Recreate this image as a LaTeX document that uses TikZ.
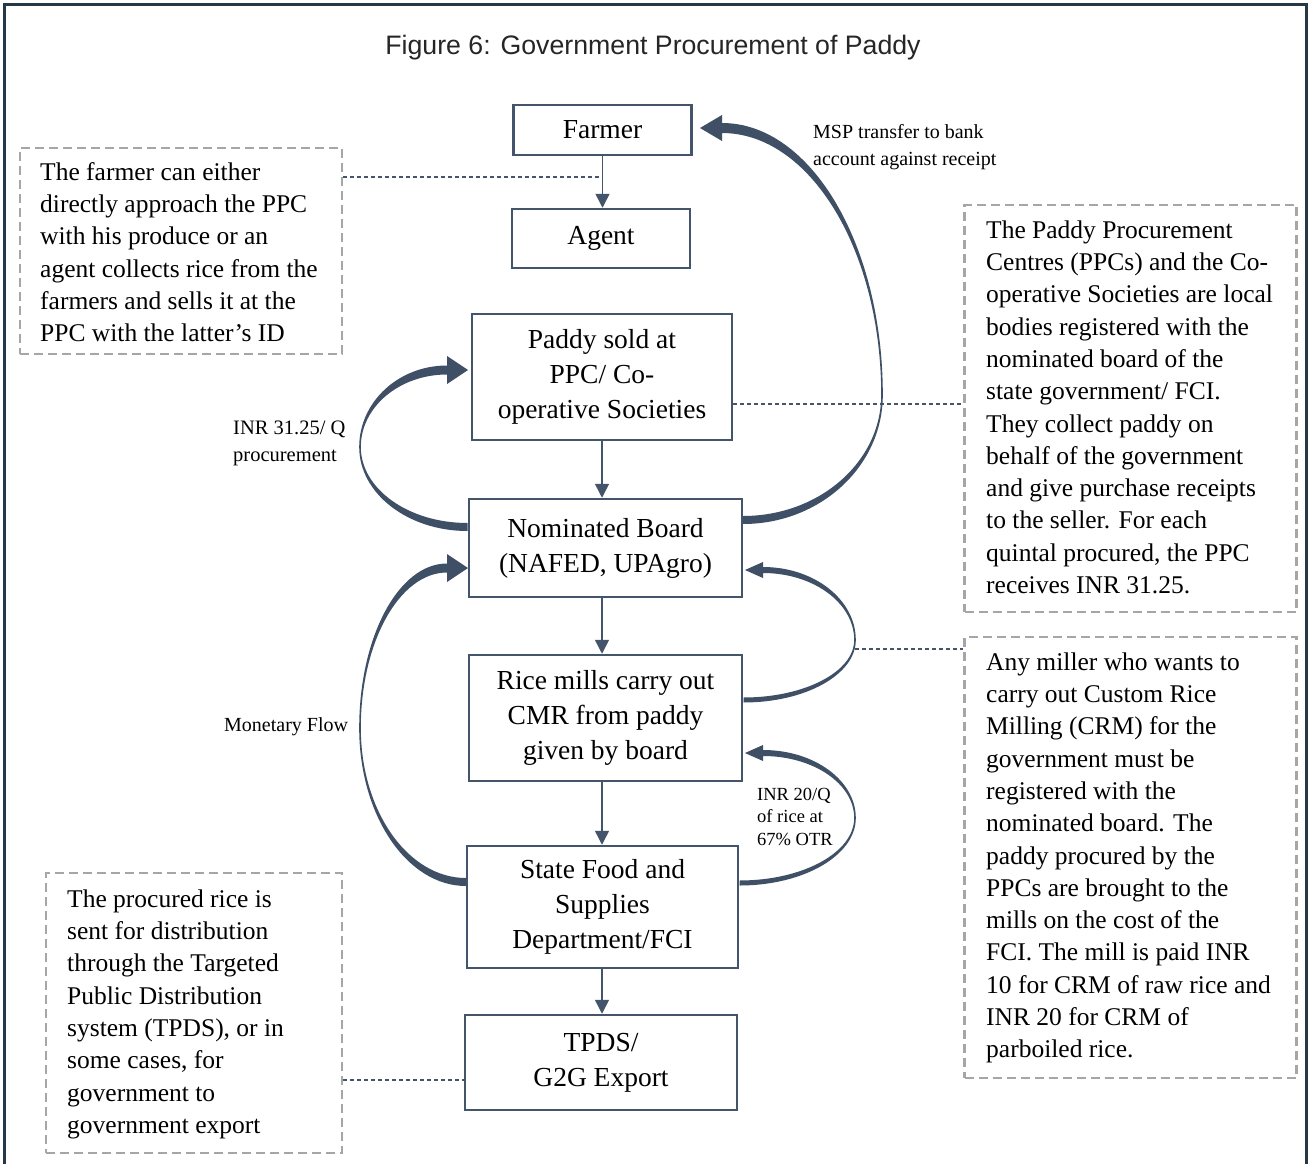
\documentclass[tikz,border=0pt]{standalone}
\usepackage{fontspec}
\setmainfont{Liberation Serif}
\newfontfamily\titlefont{Liberation Sans}
\usetikzlibrary{arrows.meta,calc}
\definecolor{slate}{HTML}{44546A}
\definecolor{frameblue}{HTML}{243848}
\definecolor{dashgray}{HTML}{A6A6A6}
\definecolor{arrowfill}{HTML}{3E4F66}
% crescent arrow: Sx Sy Mx My tipx tipy t1 t2 headlength ; head half width in \chw
\newcommand\crescent[9]{%
  \pgfmathsetmacro\cd{sign(#3-#1)}%
  \pgfmathsetmacro\cSo{#2+#7/2}%
  \pgfmathsetmacro\cSi{#2-#7/2}%
  \pgfmathsetmacro\cBo{#6-#8/2}%
  \pgfmathsetmacro\cBi{#6+#8/2}%
  \pgfmathsetmacro\cBx{#5+\cd*#9}%
  \pgfmathsetmacro\cMo{#3+\cd*0.8}%
  \pgfmathsetmacro\cMi{#3-\cd*0.8}%
  \fill[arrowfill] (#1,\cSo)
    .. controls ({#1+0.5523*(\cMo-#1)},\cSo) and (\cMo,{#4+0.5523*(\cSo-#4)}) .. (\cMo,#4)
    .. controls (\cMo,{#4+0.5523*(\cBo-#4)}) and ({\cBx+0.5523*(\cMo-\cBx)},\cBo) .. (\cBx,\cBo)
    -- (\cBx,{#6-\chw}) -- (#5,#6) -- (\cBx,{#6+\chw}) -- (\cBx,\cBi)
    .. controls ({\cBx+0.5523*(\cMi-\cBx)},\cBi) and (\cMi,{#4+0.5523*(\cBi-#4)}) .. (\cMi,#4)
    .. controls (\cMi,{#4+0.5523*(\cSi-#4)}) and ({#1+0.5523*(\cMi-#1)},\cSi) .. (#1,\cSi)
    -- cycle;
}
\tikzset{
  box/.style={draw=slate, line width=2.5pt, fill=white, rectangle, inner sep=0pt,
    align=center, font=\fontsize{27.5}{35}\selectfont},
  notebox/.style={draw=dashgray, line width=2.5pt, dash pattern=on 9pt off 5pt,
    rectangle, inner sep=0pt},
  note/.style={anchor=north west, inner sep=0pt, align=left,
    font=\fontsize{25.5}{32.3}\selectfont},
  link/.style={draw=slate, line width=1.2pt, dash pattern=on 4pt off 3pt},
  flow/.style={draw=slate, line width=1.5pt, -{Triangle[width=14pt,length=14pt]}},
  lbl/.style={anchor=north west, inner sep=0pt, align=left},
}
\begin{document}
\begin{tikzpicture}[x=1pt,y=-1pt]
\useasboundingbox (0,0) rectangle (1312,1164);
\clip (0,0) rectangle (1312,1164);
\fill[white] (0,0) rectangle (1312,1164);
\draw[frameblue, line width=3pt] (4,5) rectangle (1306,1180);

\node[anchor=base, font=\titlefont\fontsize{26.7}{32}\selectfont, text=black!85] (title) at (653,55)
  {Figure 6: Government Procurement of Paddy};

% main boxes
\node[box, minimum width=178pt, minimum height=50pt] (farmer) at (602.5,130) {Farmer};
\node[box, minimum width=178pt, minimum height=59pt] (agent) at (601,238.5) {Agent};
\node[box, minimum width=260pt, minimum height=126pt] (paddy) at (602,377) {Paddy sold at\\PPC/ Co-\\operative Societies};
\node[box, minimum width=273pt, minimum height=98pt] (nb) at (605.5,548) {Nominated Board\\(NAFED, UPAgro)};
\node[box, minimum width=273pt, minimum height=126pt] (rice) at (605.5,718) {Rice mills carry out\\CMR from paddy\\given by board};
\node[box, minimum width=271pt, minimum height=122pt] (state) at (602.5,907) {State Food and\\Supplies\\Department/FCI};
\node[box, minimum width=272pt, minimum height=95pt] (tpds) at (601,1062.5) {TPDS/\\G2G Export};

% straight flows
\draw[flow] (farmer.south) -- (farmer.south |- agent.north);
\draw[flow] (paddy.south) -- (paddy.south |- nb.north);
\draw[flow] (paddy.south |- nb.south) -- (paddy.south |- rice.north);
\draw[flow] (paddy.south |- rice.south) -- (paddy.south |- state.north);
\draw[flow] (paddy.south |- state.south) -- (paddy.south |- tpds.north);

% dashed note boxes
\node[notebox, minimum width=322pt, minimum height=206pt] (ltbox) at (181,251) {};
\node[notebox, minimum width=332pt, minimum height=407pt] (rtbox) at (1130.5,408.5) {};
\node[notebox, minimum width=332pt, minimum height=441pt] (rbbox) at (1130.5,857.5) {};
\node[notebox, minimum width=296pt, minimum height=280pt] (lbbox) at (194,1013) {};

\node[note] (lttext) at (40,157.4) {\strut The farmer can either\\
directly approach the PPC\\
with his produce or an\\
agent collects rice from the\\
farmers and sells it at the\\
PPC with the latter’s ID};

\node[note] (rttext) at (986,215.4) {\strut The Paddy Procurement\\
Centres (PPCs) and the Co-\\
operative Societies are local\\
bodies registered with the\\
nominated board of the\\
state government/ FCI.\\
They collect paddy on\\
behalf of the government\\
and give purchase receipts\\
to the seller. For each\\
quintal procured, the PPC\\
receives INR 31.25.};

\node[note] (rbtext) at (986,647.4) {\strut Any miller who wants to\\
carry out Custom Rice\\
Milling (CRM) for the\\
government must be\\
registered with the\\
nominated board. The\\
paddy procured by the\\
PPCs are brought to the\\
mills on the cost of the\\
FCI. The mill is paid INR\\
10 for CRM of raw rice and\\
INR 20 for CRM of\\
parboiled rice.};

\node[note] (lbtext) at (67,884.4) {\strut The procured rice is\\
sent for distribution\\
through the Targeted\\
Public Distribution\\
system (TPDS), or in\\
some cases, for\\
government to\\
government export};

% dashed links
\coordinate (lkA) at (602,177);
\coordinate (lkB) at (855,649);
\coordinate (lkP) at (700,404);
\coordinate (lkT) at (500,1080);
\draw[link] (ltbox.east |- lkA) -- (lkA);
\draw[link] (paddy.east |- lkP) -- (rtbox.west |- lkP);
\draw[link] (lkB) -- (rbbox.west |- lkB);
\draw[link] (lbbox.east |- lkT) -- (tpds.west |- lkT);

% crescent arrows
\def\chw{13}
\crescent{743}{520}{882}{395}{700}{128}{8}{10}{22}
\def\chw{14}
\crescent{467.5}{527}{360}{447}{468}{370}{8}{9}{21}
\crescent{466}{882}{360}{728}{468}{568}{8}{9}{21}
\def\chw{8}
\crescent{743.5}{700}{855}{640}{745}{570}{5}{6}{18}
\crescent{739.5}{883}{855}{818}{745}{753}{5}{6}{18}

% labels
\node[lbl, font=\fontsize{20}{27}\selectfont] (msp) at (813,119) {\strut MSP transfer to bank\\account against receipt};
\node[lbl, font=\fontsize{20.5}{27}\selectfont] (inr31) at (233,415) {\strut INR 31.25/ Q\\procurement};
\node[anchor=base west, inner sep=0pt, font=\fontsize{20}{27}\selectfont] (mon) at (224,731) {Monetary Flow};
\node[lbl, font=\fontsize{18.5}{22.5}\selectfont] (inr20) at (757,784.2) {\strut INR 20/Q\\of rice at\\67\% OTR};
\end{tikzpicture}
\end{document}
